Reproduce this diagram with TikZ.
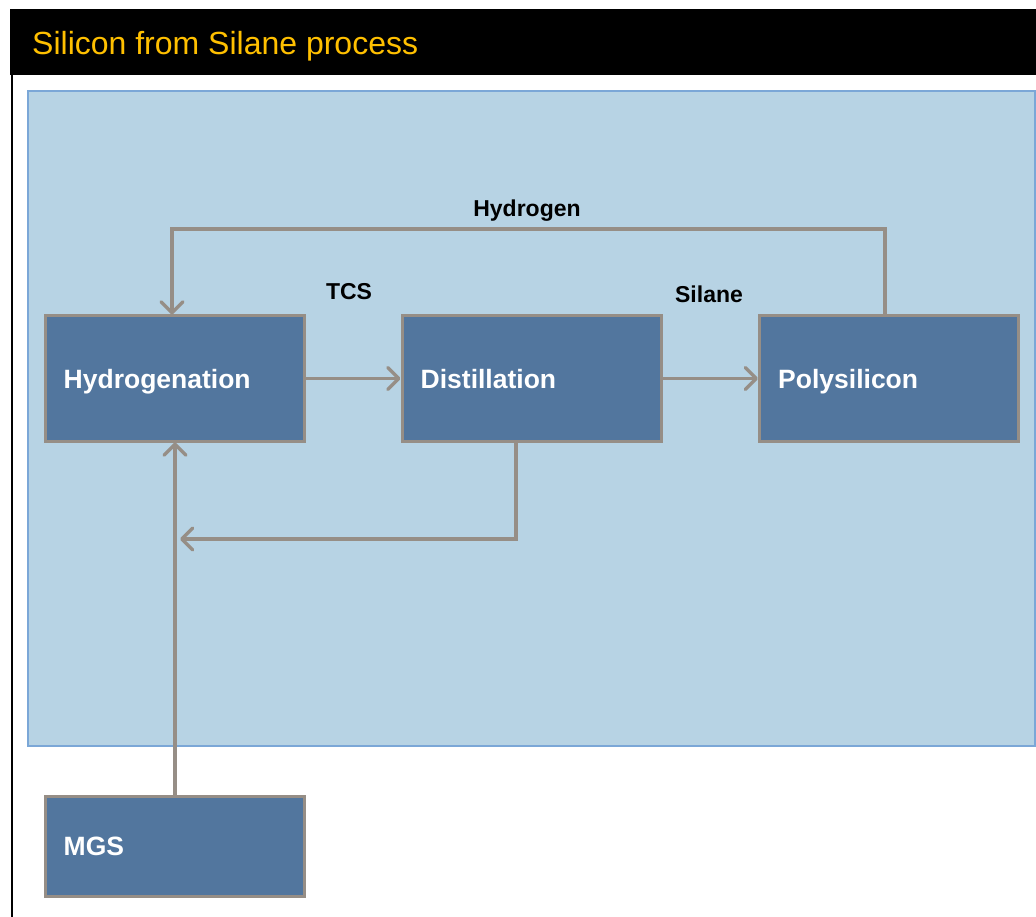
\documentclass[tikz,border=0pt]{standalone}
\usepackage{fontspec}
\setmainfont{Liberation Sans}
\usetikzlibrary{arrows.meta,calc}
\definecolor{gold}{HTML}{FFC000}
\definecolor{panel}{HTML}{B7D3E4}
\definecolor{panelborder}{HTML}{7BA7D7}
\definecolor{boxfill}{HTML}{52769E}
\definecolor{connector}{HTML}{968E86}
\begin{document}
\begin{tikzpicture}[x=1pt,y=-1pt,
 stepbox/.style={draw=connector, line width=3pt, fill=boxfill, minimum width=259pt, minimum height=125pt, inner sep=0pt},
 boxlabel/.style={text=white, font=\fontsize{26.5}{30}\selectfont\bfseries, anchor=base west, inner sep=0pt},
 flowlabel/.style={text=black, font=\fontsize{23}{27}\selectfont\bfseries, anchor=base, inner sep=0pt},
 flow/.style={draw=connector, line width=3.5pt, -{Straight Barb[length=11pt,width=22pt,round,line width=3.5pt]}}
]
\useasboundingbox (0,0) rectangle (1036,917);
\fill[white] (0,0) rectangle (1036,917);
\fill[black] (10,9.5) rectangle (1036,75);
\draw[black, line width=2.5pt] (12,75) -- (12,917);
\node[anchor=base west, text=gold, font=\fontsize{32}{38}\selectfont, inner sep=0pt] (title) at (32,54.5) {Silicon from Silane process};
\draw[panelborder, line width=2pt, fill=panel] (28,91) rectangle (1035,746);

\node[stepbox] (hyd) at (174.5,378.5) {};
\node[stepbox] (dist) at (531.5,378.5) {};
\node[stepbox] (poly) at (889,378.5) {};
\node[stepbox, minimum height=100pt] (mgs) at (174.5,846) {};

\node[boxlabel] (hydt) at ([xshift=20pt,yshift=-9.5pt]hyd.west) {Hydrogenation};
\node[boxlabel] (distt) at ([xshift=20pt,yshift=-9.5pt]dist.west) {Distillation};
\node[boxlabel] (polyt) at ([xshift=20pt,yshift=-9.5pt]poly.west) {Polysilicon};
\node[boxlabel] (mgst) at ([xshift=20pt,yshift=-9pt]mgs.west) {MGS};

\coordinate (hloopR) at (885,229);
\coordinate (hloopL) at (172,229);
\coordinate (dretB) at (516,539);
\coordinate (dretT) at (180,539);
\coordinate (mgsup) at (175,0);

\draw[flow] (hyd.east) -- (dist.west);
\draw[flow] (dist.east) -- (poly.west);
\draw[flow] (poly.north -| hloopR) -- (hloopR) -- (hloopL) -- (hyd.north -| hloopL);
\draw[flow] (dist.south -| dretB) -- (dretB) -- (dretT);
\draw[flow] (mgs.north -| mgsup) -- (hyd.south -| mgsup);

\node[flowlabel] (h2) at (527,217) {Hydrogen};
\node[flowlabel] (tcs) at (349,300) {TCS};
\node[flowlabel] (sil) at (709,303) {Silane};
\end{tikzpicture}
\end{document}
